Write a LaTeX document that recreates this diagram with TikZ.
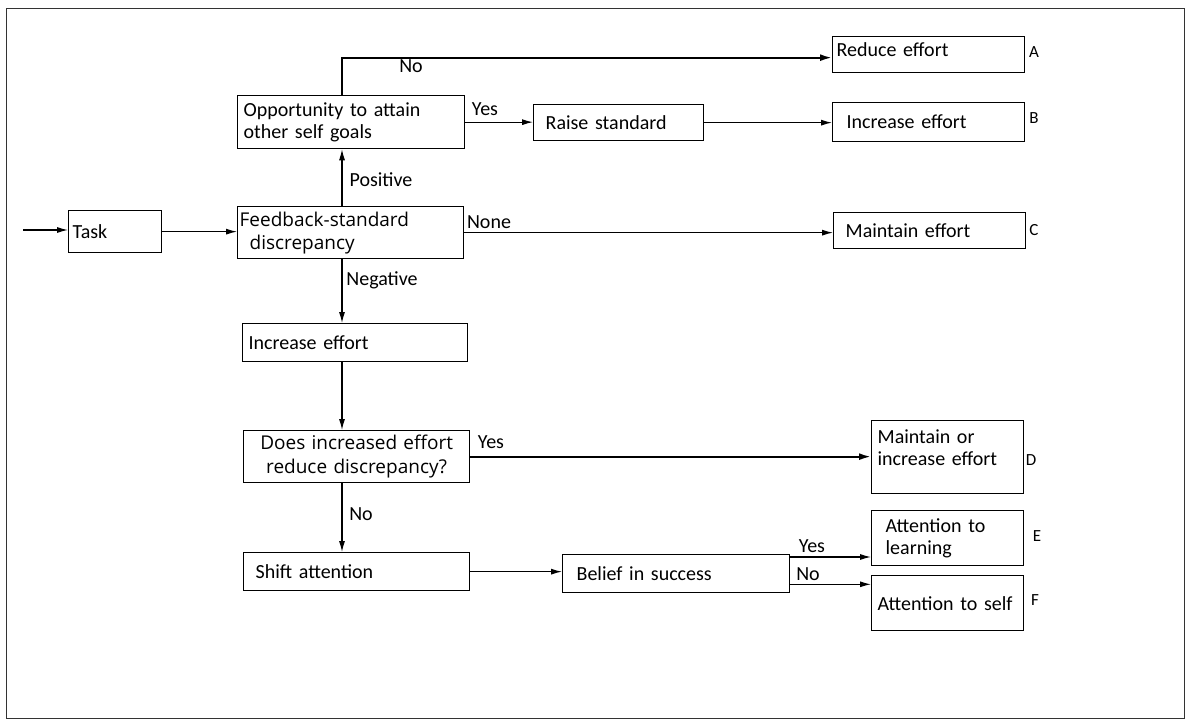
\documentclass[tikz,border=0pt]{standalone}
\usepackage{fontspec}
\setmainfont{Carlito}
\newfontfamily\bigfont{Open Sans}
\usetikzlibrary{arrows.meta}

\tikzset{
	box/.style={draw, line width=1.3pt, rectangle, anchor=north west, align=left, inner xsep=6pt, inner ysep=1pt, font=\fontsize{20}{22}\selectfont},
	line/.style={line width=1.1pt, -{Latex[length=11pt,width=6pt]}},
	heavy/.style={line width=2pt, -{Latex[length=12pt,width=7pt]}},
	lbl/.style={font=\fontsize{20}{22}\selectfont},
	tag/.style={font=\fontsize{17}{19}\selectfont}
}

\begin{document}
\begin{tikzpicture}[x=1pt,y=-1pt]
	\useasboundingbox (0,0) rectangle (1200,725);
	\draw[line width=0.9pt, color=black!80] (6,8) rectangle (1184,718);

	\node[box, text width=81pt, minimum height=42pt] (task) at (68,210) {\hspace*{-2pt}Task};
	\node[box, text width=214pt, minimum height=52pt, font=\bigfont\fontsize{19}{23}\selectfont] (fb) at (237,206) {\hspace*{-4pt}Feedback-standard\\\hspace*{6pt}discrepancy};
	\node[box, text width=215pt, minimum height=53pt] (opp) at (237,95) {Opportunity to attain\\other self goals};
	\node[box, text width=158pt, minimum height=36pt] (raise) at (533,104) {\hspace*{6pt}Raise standard};
	\node[box, text width=180pt, minimum height=36pt] (reduce) at (832,36) {\hspace*{-2pt}\raisebox{10pt}{Reduce effort}};
	\node[box, text width=180pt, minimum height=39pt] (incB) at (832,102) {\hspace*{8pt}Increase effort};
	\node[box, text width=180pt, minimum height=36pt] (maint) at (833,212) {\hspace*{6pt}Maintain effort};
	\node[box, text width=213pt, minimum height=38pt] (inc) at (242,323) {Increase effort};
	\node[box, text width=214pt, minimum height=52pt, align=center, font=\bigfont\fontsize{19}{24}\selectfont] (does) at (243,430) {Does increased effort\\reduce discrepancy?};
	\node[box, text width=214pt, minimum height=38pt] (shift) at (243,552) {\hspace*{6pt}Shift attention};
	\node[box, text width=215pt, minimum height=38pt] (belief) at (562,554) {\hspace*{8pt}Belief in success};
	\node[box, text width=140pt, minimum height=73pt] (maintD) at (871,420) {Maintain or\\increase effort\\[-9pt]\strut};
	\node[box, text width=140pt, minimum height=55pt] (learn) at (871,510) {\hspace*{8pt}Attention to\\\hspace*{8pt}learning};
	\node[box, text width=140pt, minimum height=55pt] (self) at (871,575) {Attention to self};

	\node[lbl] (no1) at (411,66) {No};
	\node[lbl] (yes1) at (485,109) {Yes};
	\node[lbl] (pos) at (381,180) {Positive};
	\node[lbl] (none) at (489,222) {None};
	\node[lbl] (neg) at (382,280) {Negative};
	\node[lbl] (yes2) at (491,442) {Yes};
	\node[lbl] (no2) at (361,514) {No};
	\node[lbl] (yes3) at (812,546) {Yes};
	\node[lbl] (no3) at (808,574) {No};

	\node[tag] (tA) at (1034,52) {A};
	\node[tag] (tB) at (1034,118) {B};
	\node[tag] (tC) at (1034,230) {C};
	\node[tag] (tD) at (1031,460) {D};
	\node[tag] (tE) at (1037,536) {E};
	\node[tag] (tF) at (1035,600) {F};

	\coordinate (start) at (23,230);
	\draw[line] (start) -- (start -| task.west);
	\draw[line] (task.east) -- (task.east -| fb.west);
	\draw[line] ([xshift=105pt]fb.north west) -- ([xshift=105pt]opp.south west);
	\draw[heavy] ([xshift=105pt]opp.north west) |- ([yshift=-3pt]reduce.west);
	\draw[line] (opp.east) -- (opp.east -| raise.west);
	\draw[line] (raise.east) -- (raise.east -| incB.west);
	\draw[line] (fb.east) -- (fb.east -| maint.west);
	\draw[line] ([xshift=105pt]fb.south west) -- ([xshift=100pt]inc.north west);
	\draw[line] ([xshift=100pt]inc.south west) -- ([xshift=99pt]does.north west);
	\draw[line] ([xshift=99pt]does.south west) -- ([xshift=99pt]shift.north west);
	\draw[heavy] (does.east) -- (does.east -| maintD.west);
	\draw[line] (shift.east) -- (shift.east -| belief.west);
	\draw[line] ([yshift=-3pt]belief.north east) -- ([yshift=-3pt]belief.north east -| learn.west);
	\draw[line] ([yshift=9pt]belief.south east) -- ([yshift=9pt]belief.south east -| self.west);
\end{tikzpicture}
\end{document}
